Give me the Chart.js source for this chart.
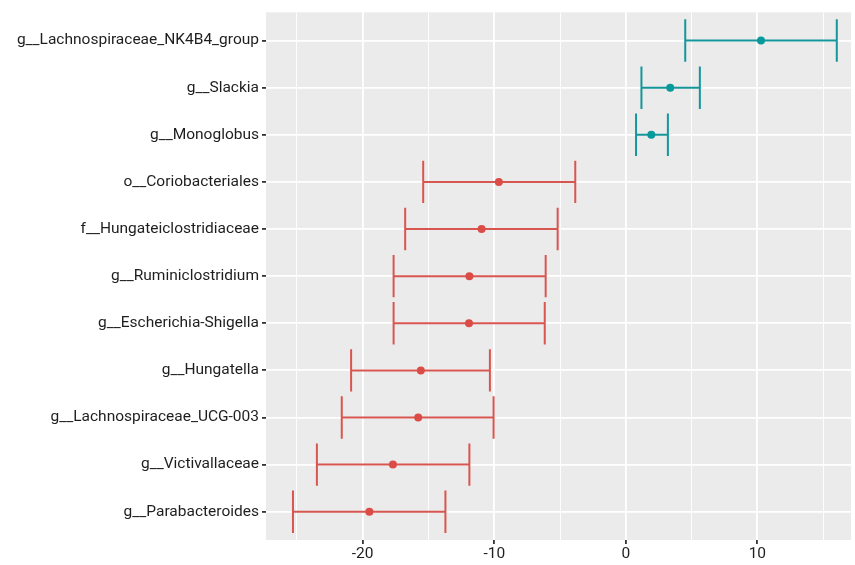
<!DOCTYPE html>
<html>
<head>
<meta charset="utf-8">
<script src="https://cdn.jsdelivr.net/npm/chart.js@4.4.1/dist/chart.umd.min.js"></script>
<style>
  html, body { margin: 0; padding: 0; background: #ffffff; }
  #wrap { width: 855px; height: 565px; position: relative; }
</style>
</head>
<body>
<div id="wrap"><canvas id="forest"></canvas></div>
<script>
// Taxa, top to bottom
const taxa = [
  'g__Lachnospiraceae_NK4B4_group',
  'g__Slackia',
  'g__Monoglobus',
  'o__Coriobacteriales',
  'f__Hungateiclostridiaceae',
  'g__Ruminiclostridium',
  'g__Escherichia-Shigella',
  'g__Hungatella',
  'g__Lachnospiraceae_UCG-003',
  'g__Victivallaceae',
  'g__Parabacteroides'
];
// Effect estimate and interval bounds for each taxon
const estimate = [10.28, 3.38, 1.94, -9.65, -10.96, -11.89, -11.92, -15.58, -15.78, -17.70, -19.49];
const lower    = [4.52, 1.19, 0.78, -15.40, -16.77, -17.65, -17.65, -20.88, -21.59, -23.48, -25.30];
const upper    = [16.04, 5.63, 3.20, -3.84, -5.18, -6.09, -6.16, -10.33, -10.05, -11.89, -13.71];
// Grid positions along the effect axis; labelled ones are major
const xGrid = [-25, -20, -15, -10, -5, 0, 5, 10, 15];
const xLabelled = [-20, -10, 0, 10];

const POS = '#15969A', POS_PT = '#07999C';
const NEG = '#D85650', NEG_PT = '#DB4C46';
const colorFor = (v, a, b) => v >= 0 ? a : b;

const points = taxa.map((t, i) => ({ x: estimate[i], y: i }));

// Whiskers with end caps, drawn under the points
const errorBars = {
  id: 'errorBars',
  beforeDatasetsDraw(chart) {
    const { ctx, scales: { x, y } } = chart;
    const capHalf = (y.getPixelForValue(1) - y.getPixelForValue(0)) * 0.45;
    ctx.save();
    ctx.lineWidth = 2;
    ctx.lineCap = 'butt';
    taxa.forEach((t, i) => {
      const py = y.getPixelForValue(i);
      const x0 = x.getPixelForValue(lower[i]);
      const x1 = x.getPixelForValue(upper[i]);
      ctx.strokeStyle = colorFor(estimate[i], POS, NEG);
      ctx.beginPath();
      ctx.moveTo(x0, py); ctx.lineTo(x1, py);
      ctx.moveTo(x0, py - capHalf); ctx.lineTo(x0, py + capHalf);
      ctx.moveTo(x1, py - capHalf); ctx.lineTo(x1, py + capHalf);
      ctx.stroke();
    });
    ctx.restore();
  }
};

// Grey panel background
const panel = {
  id: 'panel',
  beforeDraw(chart) {
    const { ctx, chartArea: a } = chart;
    ctx.save();
    ctx.fillStyle = '#EBEBEB';
    ctx.fillRect(a.left, a.top, a.right - a.left, a.bottom - a.top);
    ctx.restore();
  }
};

const font = { family: 'Roboto', size: 15.5 };

new Chart(document.getElementById('forest'), {
  type: 'scatter',
  data: {
    datasets: [{
      data: points,
      pointRadius: 4,
      pointHoverRadius: 4,
      pointBorderWidth: 0,
      pointBackgroundColor: ctx => colorFor(estimate[ctx.dataIndex], POS_PT, NEG_PT),
      pointBorderColor: ctx => colorFor(estimate[ctx.dataIndex], POS_PT, NEG_PT)
    }]
  },
  options: {
    responsive: true,
    maintainAspectRatio: false,
    animation: false,
    layout: { padding: { top: 11, right: 2, left: 0, bottom: 0 } },
    plugins: { legend: { display: false }, tooltip: { enabled: false } },
    scales: {
      x: {
        type: 'linear',
        min: -27.35,
        max: 17.12,
        afterBuildTicks(scale) { scale.ticks = xGrid.map(v => ({ value: v })); },
        afterFit(scale) { scale.height = 25; },
        border: { display: false },
        grid: {
          color: '#FFFFFF',
          lineWidth: c => xLabelled.includes(c.tick && c.tick.value) ? 1.8 : 0.9,
          tickColor: c => xLabelled.includes(c.tick && c.tick.value) ? '#333333' : 'rgba(0,0,0,0)',
          tickLength: 4,
          drawTicks: true
        },
        ticks: {
          autoSkip: false,
          maxRotation: 0,
          padding: 1,
          color: '#1E1E1E',
          font,
          callback: v => xLabelled.includes(v) ? String(v) : ''
        }
      },
      y: {
        type: 'linear',
        reverse: true,
        min: -0.6,
        max: 10.6,
        afterBuildTicks(scale) { scale.ticks = taxa.map((t, i) => ({ value: i })); },
        afterFit(scale) { scale.width = 266; },
        border: { display: false },
        grid: {
          color: '#FFFFFF',
          lineWidth: 1.8,
          tickColor: '#333333',
          tickLength: 4,
          drawTicks: true
        },
        ticks: {
          autoSkip: false,
          padding: 3,
          color: '#1E1E1E',
          font,
          callback: v => taxa[v]
        }
      }
    }
  },
  plugins: [panel, errorBars]
});
</script>
</body>
</html>
